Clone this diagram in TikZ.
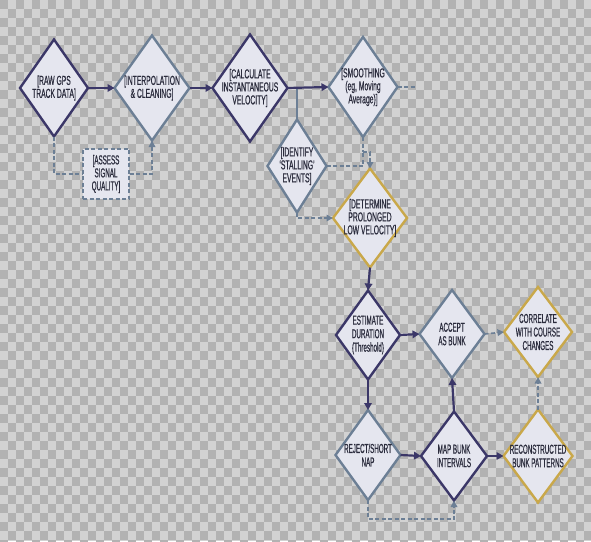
\documentclass[tikz,border=0pt]{standalone}
\usepackage{fontspec}
\setmainfont{Liberation Sans}[FakeStretch=0.52,FakeBold=0.5]
\newfontfamily\narrowB{Liberation Sans}[FakeStretch=0.48,FakeBold=0.5]
\usetikzlibrary{shapes.geometric,arrows.meta}
\definecolor{navy}{HTML}{3B3768}
\definecolor{slate}{HTML}{6C7F95}
\definecolor{gold}{HTML}{C9A84A}
\definecolor{dfill}{HTML}{E5E6EF}
\definecolor{ink}{HTML}{2A2B3C}
\definecolor{chkL}{HTML}{D2D2D2}
\definecolor{chkD}{HTML}{B2B2B2}
\begin{document}
\begin{tikzpicture}[x=1pt,y=-1pt,
  dia/.style={diamond, inner sep=0pt, outer sep=0pt, fill=dfill, line width=2.4pt, line join=miter},
  lbl/.style={font=\fontsize{13}{13}\selectfont, text=ink, align=center, inner sep=0pt},
  lblb/.style={font=\narrowB\fontsize{13}{13.5}\selectfont, text=ink, align=center, inner sep=0pt},
  solidarrow/.style={draw=navy, line width=2.2pt, -{Triangle[length=7pt,width=7.5pt]}},
  thinline/.style={draw=slate, line width=1.5pt},
  dashline/.style={draw=slate, line width=1.6pt, dash pattern=on 4pt off 2.5pt},
  dasharrow/.style={dashline, -{Triangle[length=6.5pt,width=6.5pt]}}]
\useasboundingbox (0,0) rectangle (591,541);
\clip (0,0) rectangle (591,541);
\fill[chkL] (0,0) rectangle (591,541);
\foreach \j in {0,...,60}{
  \pgfmathsetmacro\off{mod(\j,2)*8}
  \foreach \i in {0,16,...,592}{
    \fill[chkD] (\i+\off,\j*9) rectangle ++(8,9);
  }
}
% nodes
\node[dia, draw=navy, minimum width=68pt, minimum height=97pt,
  label={[lbl]center:{[RAW GPS\\TRACK DATA]}}] (raw) at (54,88) {};
\node[dia, draw=slate, minimum width=75pt, minimum height=105pt,
  label={[lbl]center:{[INTERPOLATION\\\& CLEANING]}}] (interp) at (152,88) {};
\node[dia, draw=navy, minimum width=75pt, minimum height=107pt,
  label={[lbl]center:{[CALCULATE\\INSTANTANEOUS\\VELOCITY]}}] (vel) at (250,88) {};
\node[dia, draw=slate, minimum width=69pt, minimum height=100pt,
  label={[lbl]center:{[SMOOTHING\\(eg, Moving\\Average)]}}] (smooth) at (363,87) {};
\node[dia, draw=slate, minimum width=59pt, minimum height=93pt,
  label={[lbl]center:{[IDENTIFY\\‘STALLING’\\EVENTS]}}] (stall) at (297,166) {};
\node[dia, draw=gold, minimum width=74pt, minimum height=99pt,
  label={[lbl]center:{[DETERMINE\\PROLONGED\\LOW VELOCITY]}}] (det) at (370,218) {};
\node[dia, draw=navy, minimum width=64pt, minimum height=89pt,
  label={[lblb]center:{ESTIMATE\\DURATION\\(Threshold)}}] (est) at (368,335) {};
\node[dia, draw=slate, minimum width=65pt, minimum height=88pt,
  label={[lblb]center:{ACCEPT\\AS BUNK}}] (acc) at (452,334) {};
\node[dia, draw=gold, minimum width=68pt, minimum height=90pt,
  label={[lblb]center:{CORRELATE\\WITH COURSE\\CHANGES}}] (corr) at (538,332) {};
\node[dia, draw=slate, minimum width=65pt, minimum height=90pt,
  label={[lblb]center:{REJECT/SHORT\\NAP}}] (rej) at (368,455) {};
\node[dia, draw=navy, minimum width=66pt, minimum height=89pt,
  label={[lblb]center:{MAP BUNK\\INTERVALS}}] (map) at (454,456) {};
\node[dia, draw=gold, minimum width=69pt, minimum height=93pt,
  label={[lblb]center:{RECONSTRUCTED\\BUNK PATTERNS}}] (rec) at (538,456) {};
\node[draw=slate, fill=dfill, line width=1.6pt, dash pattern=on 4pt off 2.5pt,
  minimum width=46pt, minimum height=50pt, inner sep=0pt, lbl,
  font=\narrowB\fontsize{13}{13}\selectfont] (assess) at (106,174) {[ASSESS\\SIGNAL\\QUALITY]};
% helper coordinates
\coordinate (stub) at (415,87);
\coordinate (sj) at (363,152);
% connectors
\draw[solidarrow] (raw.east) -- (interp.west);
\draw[solidarrow] (interp.east) -- (vel.west);
\draw[thinline] (stall.north) |- (vel.east);
\draw[solidarrow] (vel.east) -- (smooth.west);
\draw[dashline] (smooth.east) -- (stub);
\draw[dashline] (raw.south) |- (assess.west);
\draw[dasharrow] (assess.east) -| (interp.south);
\draw[dashline] (smooth.south) -- (sj);
\draw[dashline] (stall.east) -| (sj);
\draw[dasharrow] (sj) -| (det.north);
\draw[dasharrow] (stall.south) |- (det.west);
\draw[solidarrow] (det.south) -- (est.north);
\draw[solidarrow] (est.east) -- (acc.west);
\draw[dasharrow] (acc.east) -- (corr.west);
\draw[solidarrow] (est.south) -- (rej.north);
\draw[solidarrow] (rej.east) -- (map.west);
\draw[solidarrow] (map.north) -- (acc.south);
\draw[solidarrow] (map.east) -- (rec.west);
\draw[dasharrow] (rec.north) -- (corr.south);
\draw[dasharrow] (rej.south) -- ++(0,19) -| (map.south);
\end{tikzpicture}
\end{document}
